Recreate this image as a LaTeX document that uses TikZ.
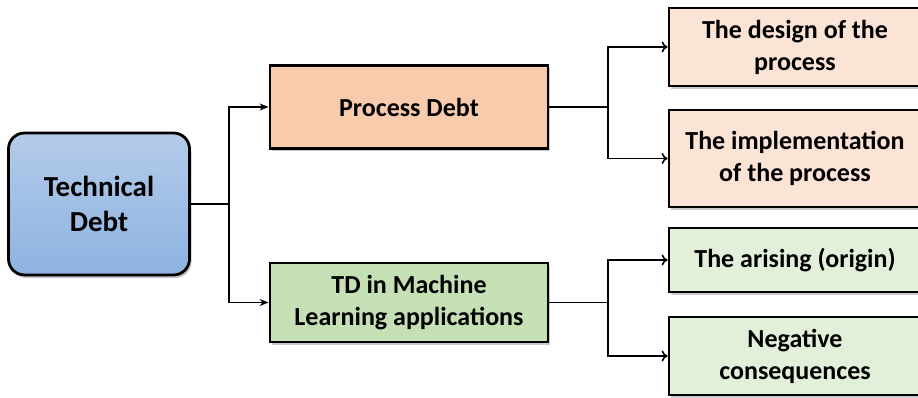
\documentclass[tikz,border=0pt]{standalone}
\usepackage{fontspec}
\setmainfont{Carlito}
\usetikzlibrary{arrows.meta,shadows}
\definecolor{techtop}{HTML}{B4CBE9}
\definecolor{techbot}{HTML}{8DB3E2}
\definecolor{peach}{HTML}{F8CBAD}
\definecolor{peachlt}{HTML}{FBE3D6}
\definecolor{green}{HTML}{C5E0B4}
\definecolor{greenlt}{HTML}{E2F0D9}
\tikzset{
  box/.style={draw=black, line width=2.8pt, align=center, inner sep=0pt,
    font=\bfseries\fontsize{26}{32}\selectfont,
    drop shadow={shadow xshift=2pt, shadow yshift=-3pt, fill=black!35, opacity=0.6}},
  conn/.style={line width=1.9pt},
  fillarr/.style={conn, -{Stealth[length=9pt,width=7pt]}},
  openarr/.style={conn, -{To[length=6pt,width=11pt,line width=1.6pt]}},
}
\begin{document}
\begin{tikzpicture}[x=1pt,y=-1pt]
\useasboundingbox (0,0) rectangle (918,398);
\node[box, rounded corners=16pt, top color=techtop, bottom color=techbot,
  minimum width=181pt, minimum height=142pt, font=\bfseries\fontsize{29}{35}\selectfont] (tech) at (99,204) {Technical\\Debt};
\node[box, fill=peach, minimum width=278pt, minimum height=83pt] (proc) at (409,107) {Process Debt};
\node[box, fill=green, minimum width=278pt, minimum height=79pt] (ml) at (409,302.5) {TD in Machine\\Learning applications};
\node[box, fill=peachlt, minimum width=252pt, minimum height=78pt] (design) at (795,47) {The design of the\\process};
\node[box, fill=peachlt, minimum width=252pt, minimum height=97pt] (impl) at (795,158.5) {The implementation\\of the process};
\node[box, fill=greenlt, minimum width=252pt, minimum height=64pt] (arise) at (795,260) {The arising (origin)};
\node[box, fill=greenlt, minimum width=252pt, minimum height=78pt] (neg) at (795,356) {Negative\\consequences};
\coordinate (t1) at (229,204);
\coordinate (t2) at (608,107);
\coordinate (t3) at (608,302.5);
\draw[conn] (tech.east |- t1) -- (t1);
\draw[fillarr] (t1) |- (proc.west);
\draw[fillarr] (t1) |- (ml.west);
\draw[conn] (proc.east) -- (t2);
\draw[openarr] (t2) |- (design.west);
\draw[openarr] (t2) |- (impl.west);
\draw[conn] (ml.east) -- (t3);
\draw[openarr] (t3) |- (arise.west);
\draw[openarr] (t3) |- (neg.west);
\end{tikzpicture}
\end{document}
